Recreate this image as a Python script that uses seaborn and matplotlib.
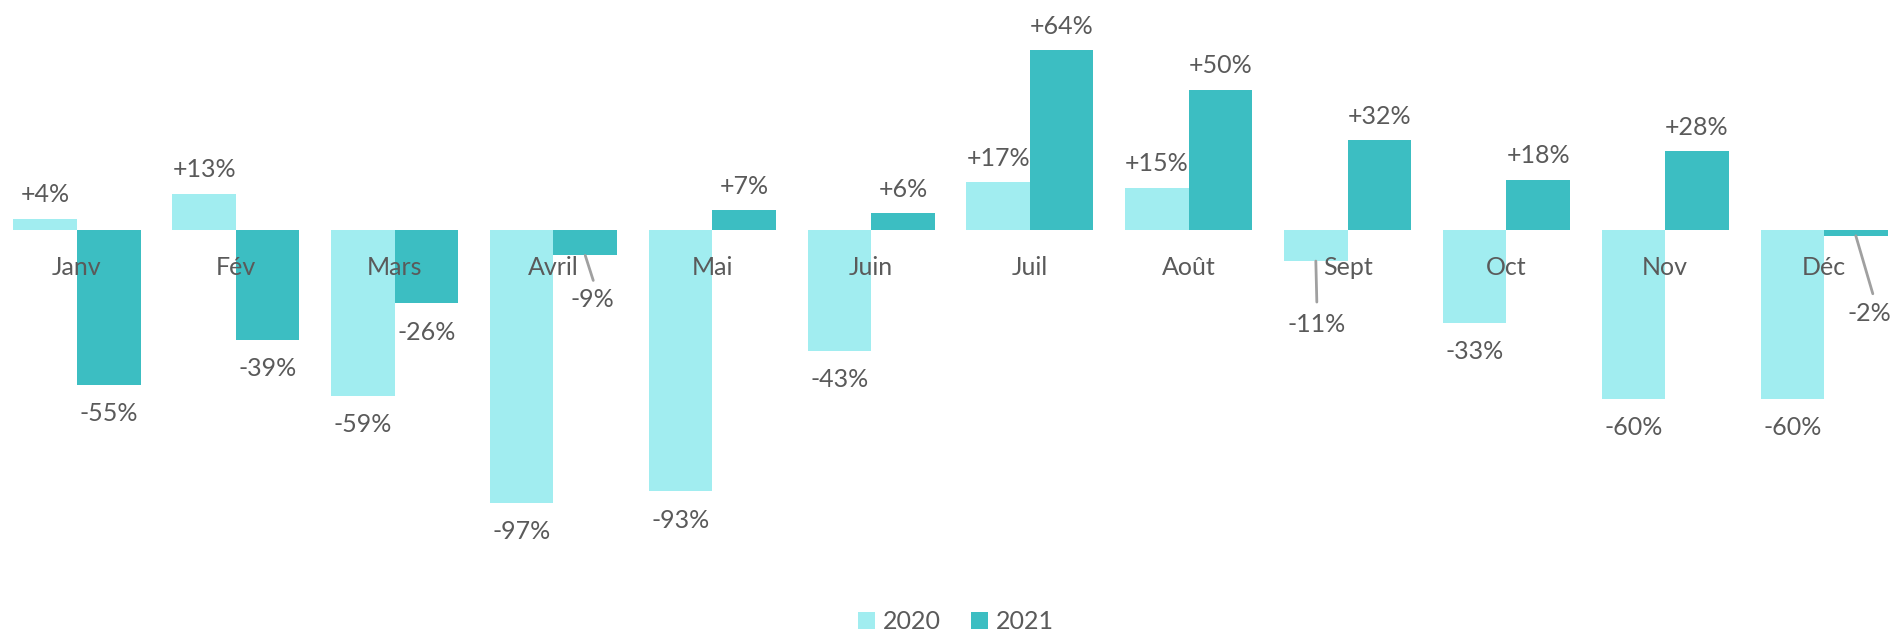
import pandas as pd
import numpy as np
import seaborn as sns
import matplotlib.pyplot as plt

months = ['Janv', 'Fév', 'Mars', 'Avril', 'Mai', 'Juin', 'Juil', 'Août', 'Sept', 'Oct', 'Nov', 'Déc']
years = ['2020', '2021']
vals_2020 = [4, 13, -59, -97, -93, -43, 17, 15, -11, -33, -60, -60]
vals_2021 = [-55, -39, -26, -9, 7, 6, 64, 50, 32, 18, 28, -2]

df = pd.DataFrame({
    'mois': months * 2,
    'annee': ['2020'] * 12 + ['2021'] * 12,
    'valeur': vals_2020 + vals_2021,
})

colors = {'2020': '#a1edf0', '2021': '#3cbec2'}
txt_col = '#5a5a5a'

sns.set_style('white')
plt.rcParams['font.family'] = ['Lato', 'DejaVu Sans']

fig = plt.figure(figsize=(18.96, 6.32), dpi=100)
ax = fig.add_axes([0, 0, 1, 1])

sns.barplot(data=df, x='mois', y='valeur', hue='annee', order=months, hue_order=years,
            palette=colors, saturation=1, linewidth=0, width=0.8, ax=ax)

ax.set_xlim(-0.485, 11.453)
ax.set_ylim(-143, 81.9)
ax.axis('off')

# month names sit just under the zero line, over the bars
for i, m in enumerate(months):
    ax.text(i, -13.2, m, ha='center', va='center', fontsize=18, color=txt_col, zorder=5)

# labels pushed away with a leader line: (year idx, month idx) -> (label offset, line end) in pixels
moved = {
    (1, 3): ((7, -44), (8, -25)),
    (0, 8): ((1, -63), (1, -41)),
    (1, 11): ((14, -78), (17, -58)),
}

for k, cont in enumerate(ax.containers):
    for j, bar in enumerate(cont):
        v = bar.get_height()
        x = bar.get_x() + bar.get_width() / 2
        lab = f'{v:+.0f}%'
        if (k, j) in moved:
            off, end = moved[(k, j)]
            ax.annotate('', xy=(x, v), xytext=end, textcoords='offset pixels',
                        arrowprops=dict(arrowstyle='-', color='#a0a0a0', lw=2,
                                        shrinkA=0, shrinkB=0))
            ax.annotate(lab, xy=(x, v), xytext=off, textcoords='offset pixels',
                        ha='center', va='center', fontsize=18, color=txt_col)
        elif v >= 0:
            ax.annotate(lab, xy=(x, v), xytext=(0, 24), textcoords='offset pixels',
                        ha='center', va='center', fontsize=18, color=txt_col)
        else:
            ax.annotate(lab, xy=(x, v), xytext=(0, -29), textcoords='offset pixels',
                        ha='center', va='center', fontsize=18, color=txt_col)

handles, labels = ax.get_legend_handles_labels()
ax.get_legend().remove()
fig.legend(handles, labels, loc='center', bbox_to_anchor=(0.504, 0.016), ncol=2,
           frameon=False, fontsize=18, handlelength=0.7, handleheight=0.7,
           handletextpad=0.3, columnspacing=1.2, labelcolor=txt_col)

fig.savefig('out.png', dpi=100)
